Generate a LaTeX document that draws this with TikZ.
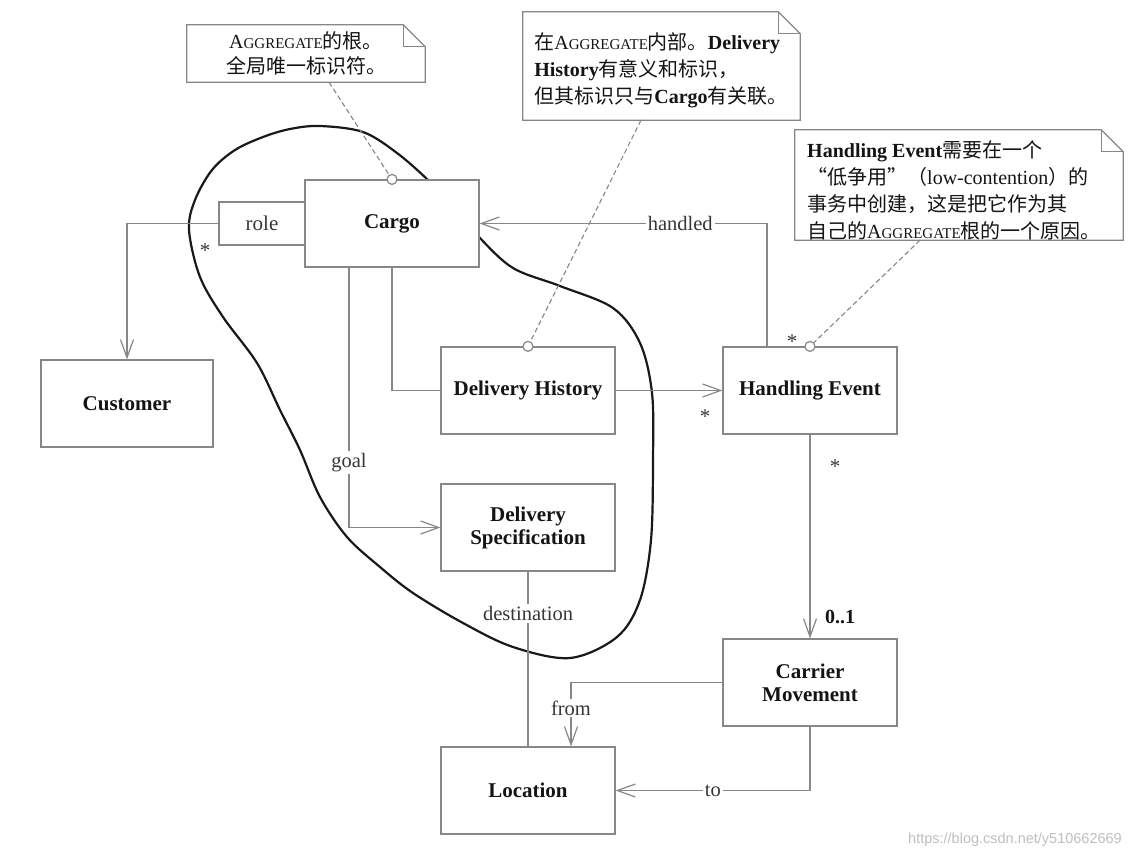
\documentclass[tikz,border=0pt]{standalone}
\usepackage{fontspec}
\setmainfont{Liberation Serif}
\setsansfont{Liberation Sans}
\newfontfamily\cjk{Noto Sans CJK SC}
\usetikzlibrary{arrows.meta}
\definecolor{linegray}{RGB}{135,135,135}
\definecolor{textdark}{RGB}{20,20,20}
\definecolor{labelgray}{RGB}{55,55,55}
\newcommand\aggsc{A{\fontsize{15}{27}\selectfont GGREGATE}}
\begin{document}
\begin{tikzpicture}[x=1pt,y=-1pt,
  box/.style={draw=linegray, line width=1.2pt, fill=white, minimum width=174pt,
    minimum height=87pt, inner sep=0pt, align=center, text=textdark,
    font=\fontsize{21}{25}\selectfont\bfseries},
  rolebox/.style={draw=linegray, line width=1.2pt, fill=white, minimum width=86pt,
    minimum height=43pt, inner sep=0pt, text=labelgray, font=\fontsize{21}{25}\selectfont},
  conn/.style={draw=linegray, line width=1.2pt},
  assoc/.style={conn, -{Straight Barb[length=18pt,width=13pt,line width=1.2pt]}},
  lbl/.style={fill=white, inner sep=2pt, text=labelgray, font=\fontsize{20.5}{24}\selectfont},
  mult/.style={inner sep=0pt, text=labelgray, font=\fontsize{21}{24}\selectfont},
  circ/.style={circle, draw=linegray, line width=1.2pt, fill=white, minimum size=10pt, inner sep=0pt},
  notelink/.style={draw=linegray, line width=1.1pt, dash pattern=on 5pt off 3pt},
  notetext/.style={inner sep=0pt, text=textdark, font=\fontsize{20}{27}\selectfont},
  blob/.style={draw=black!90, line width=2.2pt}]
\useasboundingbox (0,0) rectangle (1141,857);
\fill[white] (0,0) rectangle (1141,857);

% aggregate boundary
\draw[blob] plot[smooth cycle, tension=0.55] coordinates {
  (320,126) (363,132) (397,153) (428,180) (455,208) (479,237) (513,268) (560,286)
  (613,308) (640,343) (652,393) (653,460) (651,540) (640,600) (617,637) (570,658)
  (513,647) (463,623) (413,593) (380,567) (347,537) (320,497) (300,450) (280,410)
  (257,363) (223,317) (200,277) (189,230) (195,200) (212,170) (235,150) (263,137) (290,129)};

% classes
\node[box] (cargo) at (392,223.5) {Cargo};
\node[rolebox] (role) at (262,223.5) {role};
\node[box, minimum width=172pt] (customer) at (127,403.5) {Customer};
\node[box] (dh) at (528,390.5) {Delivery History};
\node[box] (he) at (810,390.5) {Handling Event};
\node[box] (ds) at (528,527.5) {Delivery\\[-2pt]Specification};
\node[box] (loc) at (528,790.5) {Location};
\node[box] (cm) at (810,682.5) {Carrier\\[-2pt]Movement};

% associations
\draw[assoc] (role.west) -| (customer.north);
\draw[conn] (cargo.south) |- (dh.west);
\draw[assoc] ([xshift=-43pt]cargo.south) |- (ds.west) node[lbl, pos=0.375] (goal) {goal};
\draw[assoc] (dh.east) -- (he.west);
\draw[assoc] ([xshift=-43pt]he.north) |- (cargo.east) node[lbl, pos=0.651] (handled) {handled};
\draw[assoc] (he.south) -- (cm.north);
\draw[conn] (ds.south) -- (loc.north) node[lbl, pos=0.24] (dest) {destination};
\draw[assoc] (cm.west) -| ([xshift=43pt]loc.north) node[lbl, pos=0.7] (from) {from};
\draw[assoc] (cm.south) |- (loc.east) node[lbl, pos=0.75] (to) {to};

% multiplicities
\node[mult] (m1) at (205,251) {*};
\node[mult] (m2) at (705,417) {*};
\node[mult] (m3) at (792,342) {*};
\node[mult] (m4) at (835,467) {*};
\node[inner sep=0pt, text=textdark, font=\fontsize{20}{24}\selectfont\bfseries] (m5) at (840,617) {0..1};

% notes
\node[minimum width=238pt, minimum height=57pt, inner sep=0pt] (note1) at (306,53.5) {};
\node[minimum width=277pt, minimum height=108pt, inner sep=0pt] (note2) at (661.5,66) {};
\node[minimum width=328pt, minimum height=110pt, inner sep=0pt] (note3) at (959,185) {};
\foreach \n in {note1,note2,note3}{
  \draw[draw=linegray, line width=1.2pt, fill=white]
    (\n.north west) -- ([xshift=-22pt]\n.north east) -- ([yshift=-22pt]\n.north east)
    -- (\n.south east) -- (\n.south west) -- cycle;
  \draw[draw=linegray, line width=1.2pt]
    ([xshift=-22pt]\n.north east) -- ([xshift=-22pt,yshift=-22pt]\n.north east)
    -- ([yshift=-22pt]\n.north east);
}
\node[notetext, align=center, font=\fontsize{20}{25}\selectfont] (t1) at (306,53) {%
  \aggsc{\cjk 的根。}\\{\cjk 全局唯一标识符。}};
\node[notetext, align=left] (t2) at (661,70) {%
  {\cjk 在}\aggsc{\cjk 内部。}\textbf{Delivery}\\
  \textbf{History}{\cjk 有意义和标识，}\\
  {\cjk 但其标识只与}\textbf{Cargo}{\cjk 有关联。}};
\node[notetext, align=left] (t3) at (954,190) {%
  \textbf{Handling Event}{\cjk 需要在一个}\\
  {\cjk “低争用”（}low-contention{\cjk ）的}\\
  {\cjk 事务中创建，这是把它作为其}\\
  {\cjk 自己的}\aggsc{\cjk 根的一个原因。}};

% note anchors
\node[circ] (c1) at (cargo.north) {};
\node[circ] (c2) at (dh.north) {};
\node[circ] (c3) at (he.north) {};
\draw[notelink] ([xshift=23pt]note1.south) -- (c1);
\draw[notelink] ([xshift=-20.5pt]note2.south) -- (c2);
\draw[notelink] ([xshift=-39pt]note3.south) -- (c3);

% watermark
\node[inner sep=0pt, text=black!25, font=\sffamily\fontsize{14.5}{16}\selectfont] (wm) at (1015,840) {https://blog.csdn.net/y510662669};
\end{tikzpicture}
\end{document}
